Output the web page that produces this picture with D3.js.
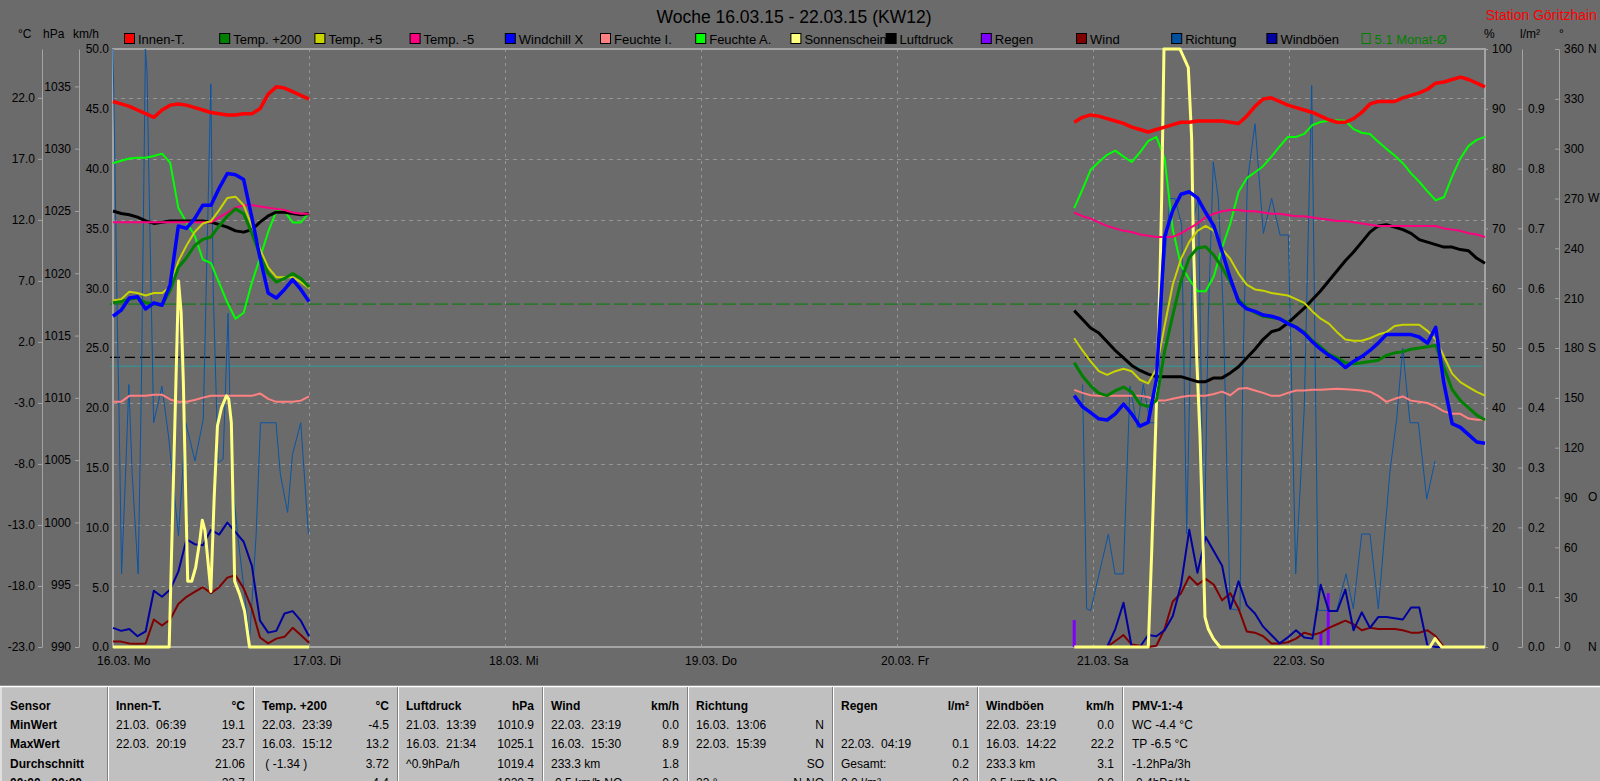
<!DOCTYPE html>
<html>
<head>
<meta charset="utf-8">
<title>Woche 16.03.15 - 22.03.15 (KW12)</title>
<script src="https://d3js.org/d3.v7.min.js"></script>
<style>
    body { margin: 0; background: #6b6b6b; overflow: hidden; }
    svg text { font-family: "Liberation Sans", Arial, sans-serif; white-space: pre; }
</style>
</head>
<body>
<div id="chart"></div>
<script>
// ---- data (hours since 16.03. 00:00) ----
var dayLabels = ["16.03. Mo", "17.03. Di", "18.03. Mi", "19.03. Do", "20.03. Fr", "21.03. Sa", "22.03. So"];
var hoursL = d3.range(0, 25);                                   // 16.03., hourly
var hoursR = d3.range(51).map(function(i) { return 117.7 + i * 1.006; }); // 20.03. late .. 22.03.

var innenL = [21.7,21.5,21.3,21.0,20.7,20.4,21.0,21.4,21.5,21.4,21.2,21.0,20.8,20.7,20.6,20.6,20.7,20.7,21.1,22.3,22.9,22.8,22.5,22.2,21.9];
var innenR = [20.0,20.4,20.6,20.5,20.3,20.1,19.9,19.6,19.4,19.2,19.4,19.6,19.8,20.0,20.0,20.1,20.1,20.1,20.1,20.0,19.9,20.5,21.3,21.9,22.0,21.7,21.4,21.2,21.0,20.8,20.5,20.2,20.0,20.0,20.3,20.8,21.5,21.7,21.7,21.7,22.0,22.2,22.4,22.7,23.2,23.3,23.5,23.7,23.5,23.2,22.9];
var t200L = [5.2,5.3,5.5,5.6,5.2,5.1,5.0,6.2,8.1,8.9,9.9,10.4,10.6,11.5,12.3,12.9,12.5,10.9,9.1,7.6,6.9,7.2,7.6,7.2,6.5];
var t200R = [0.3,-0.8,-1.6,-2.2,-2.4,-2.0,-1.7,-2.1,-3.1,-3.3,-2.8,1.2,4.2,7.0,8.9,9.7,9.8,9.1,8.1,6.9,5.5,4.8,4.4,4.1,4.0,3.9,3.6,3.2,2.8,2.1,1.6,1.0,0.7,0.3,0.2,0.3,0.4,0.5,0.9,1.1,1.2,1.4,1.5,1.6,1.7,-0.1,-1.9,-2.8,-3.4,-4.0,-4.4];
var t5L = [5.4,5.5,6.1,6.0,5.8,6.0,6.0,6.5,8.6,9.9,11.0,11.7,11.9,12.8,13.8,13.9,13.2,11.5,9.6,8.1,7.3,7.3,7.3,6.9,6.4];
var t5R = [2.3,1.3,0.4,-0.4,-0.7,-0.4,-0.2,-0.4,-1.1,-1.4,-0.2,3.3,6.7,8.8,10.2,11.1,11.5,11.1,9.6,8.8,7.6,6.7,6.3,6.2,6.0,5.9,5.8,5.5,5.2,4.5,3.9,3.5,2.8,2.2,2.1,2.1,2.3,2.6,2.8,3.3,3.4,3.4,3.4,2.9,2.2,0.8,-0.6,-1.3,-1.7,-2.1,-2.4];
var tm5L = [11.8,11.8,11.8,11.8,11.8,11.8,11.8,11.8,11.8,11.8,11.8,11.8,11.8,12.2,12.6,13.0,13.2,13.2,13.1,13.0,12.9,12.8,12.6,12.5,12.5];
var tm5R = [12.6,12.3,12.1,11.8,11.5,11.3,11.1,11.0,10.8,10.7,10.6,10.6,10.6,10.9,11.3,11.7,12.2,12.5,12.7,12.8,12.8,12.7,12.7,12.6,12.5,12.5,12.4,12.3,12.3,12.2,12.1,12.0,11.9,11.9,11.8,11.7,11.6,11.5,11.5,11.5,11.5,11.5,11.5,11.5,11.5,11.3,11.2,11.1,10.9,10.8,10.6];
var wcL = [4.1,4.6,5.6,5.7,4.7,5.2,5.0,6.7,11.5,11.3,12.1,13.2,13.2,14.6,15.8,15.7,15.3,12.2,8.9,6.0,5.6,6.3,7.1,6.3,5.3];
var wcR = [-2.4,-3.3,-3.8,-4.3,-4.4,-3.9,-3.1,-3.9,-4.9,-4.6,-1.1,10.6,12.8,14.1,14.3,13.8,12.6,11.5,9.4,7.2,5.3,4.7,4.5,4.2,4.1,3.9,3.5,3.2,2.7,2.0,1.4,0.9,0.5,-0.1,0.4,0.8,1.3,1.9,2.6,2.6,2.6,2.6,2.4,1.9,3.2,-1.4,-4.7,-5.0,-5.6,-6.2,-6.3];
var feuchteIL = [41.0,41.0,42.0,42.0,42.0,42.2,42.2,41.4,41.0,41.0,41.3,41.7,42.0,42.0,42.0,42.0,42.0,42.0,42.4,41.5,41.0,41.0,41.0,41.2,41.9];
var feuchteIR = [43.0,42.5,42.1,42.0,42.0,42.0,42.0,42.0,42.0,41.8,41.2,41.2,41.5,41.8,42.0,42.0,42.0,42.3,42.7,42.1,43.2,43.3,42.9,42.5,42.0,42.0,42.5,42.9,42.9,43.0,43.0,43.1,43.2,43.1,43.0,42.9,42.7,42.0,41.0,41.5,41.9,41.2,41.0,40.8,40.2,39.4,39.0,39.0,38.2,38.0,38.0];
var feuchteAL = [80.9,81.3,81.7,81.8,81.8,82.1,82.5,81.0,73.4,71.0,68.8,64.8,64.2,60.9,57.6,54.9,55.9,60.9,65.1,69.4,72.9,72.9,71.0,71.0,72.6];
var feuchteAR = [73.4,76.5,79.8,81.1,82.3,83.0,82.0,81.1,82.7,84.6,85.3,81.7,69.8,63.8,61.5,59.5,59.5,62.0,66.8,70.8,76.1,78.4,79.4,80.4,82.0,83.7,85.3,85.3,85.8,87.3,87.8,88.0,88.1,88.0,86.6,86.0,85.8,84.5,83.3,82.2,80.9,79.2,77.8,76.2,74.7,75.2,78.7,81.7,83.8,84.8,85.3];
var druckL = [1025.0,1024.8,1024.7,1024.5,1024.2,1024.0,1024.1,1024.2,1024.2,1024.2,1024.2,1024.2,1024.1,1023.9,1023.7,1023.4,1023.3,1023.5,1024.1,1024.6,1024.9,1024.9,1024.8,1024.7,1024.8];
var druckR = [1017.0,1016.3,1015.6,1015.2,1014.5,1013.8,1013.2,1012.6,1012.2,1011.9,1011.7,1011.7,1011.7,1011.7,1011.5,1011.3,1011.3,1011.6,1011.6,1012.0,1012.5,1013.2,1013.9,1014.7,1015.3,1015.5,1016.0,1016.6,1017.2,1017.9,1018.6,1019.4,1020.2,1021.0,1021.7,1022.5,1023.3,1023.8,1023.9,1023.7,1023.5,1023.2,1022.7,1022.5,1022.3,1022.1,1022.1,1021.9,1021.8,1021.2,1020.8];
var windL = [0.45,0.45,0.3,0.28,0.3,2.3,1.8,2.3,3.6,4.2,4.6,5.0,4.5,5.0,5.8,6.0,4.9,3.2,0.8,0.3,0.7,0.85,1.6,1.0,0.35];
var windR = [0,0,0,0,0,0.5,1.0,0.2,0.1,0,0.1,1.5,3.8,4.5,5.9,5.2,5.7,5.2,3.9,4.5,3.2,1.3,1.2,0.9,0.3,0.3,0.4,0.7,1.2,1.0,1.2,1.6,1.9,2.2,1.9,1.4,1.6,1.5,1.5,1.5,1.4,1.2,1.2,1.4,0.9,0,0,0,0,0,0];
var gustL = [1.6,1.35,1.5,0.9,1.3,4.7,4.2,4.8,6.3,9.0,8.6,8.5,9.8,9.4,10.4,9.6,8.8,6.8,2.2,1.2,1.35,2.8,3.0,2.2,0.9];
var gustR = [0,0,0,0,0,1.5,3.7,0,0,1.0,0.9,1.4,2.6,5.2,9.8,6.2,9.2,8.0,6.8,3.2,5.5,3.5,2.8,1.7,1.0,0.3,0.8,1.4,0.8,0.7,5.2,3.0,3.0,4.8,1.4,2.9,1.6,2.5,2.5,2.4,2.3,3.3,3.3,0.1,0,0,0,0,0,0,0];

var sunLT = [0,6.88,8.02,8.34,8.62,8.91,9.15,9.64,10.12,10.65,10.93,11.26,11.58,11.98,12.39,12.79,13.28,13.89,14.17,14.49,14.9,15.51,16.11,16.72,24];
var sunLV = [0,0,61.2,56,44,25,11,11,13.3,18,21.2,19.5,15,9.3,25,37,40,42,41.5,37.5,11,8.8,6,0,0];
var sunRT = [117.7,126.77,127.18,127.8,128.2,128.41,128.69,130.65,131.67,132.08,132.28,132.69,133.1,133.51,133.71,134.12,134.73,135.55,161.27,161.88,162.7,168];
var sunRV = [0,0,15.6,42,61.8,75.1,100,100,96.9,85,68.5,48.6,35.4,15.6,5,3,1.4,0,0,1.4,0,0];

var dirLT = [0,0.24,0.53,0.73,1.05,1.54,1.94,2.35,3.08,3.48,3.97,4.17,4.37,4.98,5.99,6.8,8.02,8.91,10.04,11.05,11.98,12.27,12.87,13.48,14.09,14.49,15.3,16.11,16.72,17.53,18.06,19.96,20.49,21.38,21.98,22.99,23.93];
var dirLV = [360,289,194,144,44,104,158,104,44,158,360,346,289,135,157,127,67,135,112,137,339,215,111,113,201,106,66,32,4,68,135,135,104,81,116,135,68];
var dirRT = [118.73,119.22,119.71,121.88,122.69,123.71,124.53,125.43,126.16,126.98,127.8,128.61,129.43,130.04,130.86,131.47,132.28,132.9,133.59,134.12,134.73,135.35,135.96,136.78,138.0,138.33,138.9,139.84,140.86,141.88,142.9,143.92,144.82,145.87,146.78,147.59,149.84,150.98,151.88,152.9,153.92,154.94,156.37,157.18,157.92,158.82,159.84,160.86,161.88];
var dirRV = [158,23,22,68,44,44,157,132,158,135,135,223,270,270,254,68,258,270,47,199,292,270,201,23,22,161,280,315,249,270,248,248,44,144,338,22,22,44,23,68,68,23,106,137,180,135,135,89,112];

var rainT = [117.7, 147.9, 148.8];
var rainV = [0.045, 0.024, 0.09];

var monthAvg = 5.1;      // °C
var normPressure = 1013.25;

var tempTicks = [-23, -18, -13, -8, -3, 2, 7, 12, 17, 22];
var hpaTicks = [990, 995, 1000, 1005, 1010, 1015, 1020, 1025, 1030, 1035];
var kmhTicks = [0, 5, 10, 15, 20, 25, 30, 35, 40, 45, 50];
var pctTicks = [0, 10, 20, 30, 40, 50, 60, 70, 80, 90, 100];
var rainTicks = [0, 0.1, 0.2, 0.3, 0.4, 0.5, 0.6, 0.7, 0.8, 0.9];
var degTicks = [0, 30, 60, 90, 120, 150, 180, 210, 240, 270, 300, 330, 360];
var degNames = {0: "N", 90: "O", 180: "S", 270: "W", 360: "N"};

var legendNames = ["Innen-T.", "Temp. +200", "Temp. +5", "Temp. -5", "Windchill X", "Feuchte I.", "Feuchte A.", "Sonnenschein", "Luftdruck", "Regen", "Wind", "Richtung", "Windböen"];
var legendColors = ["#ff0000", "#008000", "#c8d400", "#ff0080", "#0000ff", "#ff8080", "#00ff00", "#ffff80", "#000000", "#8000ff", "#800000", "#0050a0", "#0000a0"];

var tableRows = [
    ["Sensor", "Innen-T.", "°C", "Temp. +200", "°C", "Luftdruck", "hPa", "Wind", "km/h", "Richtung", "", "Regen", "l/m²", "Windböen", "km/h", "PMV-1:-4"],
    ["MinWert", "21.03.  06:39", "19.1", "22.03.  23:39", "-4.5", "21.03.  13:39", "1010.9", "22.03.  23:19", "0.0", "16.03.  13:06", "N", "", "", "22.03.  23:19", "0.0", "WC -4.4 °C"],
    ["MaxWert", "22.03.  20:19", "23.7", "16.03.  15:12", "13.2", "16.03.  21:34", "1025.1", "16.03.  15:30", "8.9", "22.03.  15:39", "N", "22.03.  04:19", "0.1", "16.03.  14:22", "22.2", "TP -6.5 °C"],
    ["Durchschnitt", "", "21.06", " ( -1.34 )", "3.72", "^0.9hPa/h", "1019.4", "233.3 km", "1.8", "", "SO", "Gesamt:", "0.2", "233.3 km", "3.1", "-1.2hPa/3h"],
    ["00:00 - 00:00", "", "22.7", "", "4.4", "", "1020.7", "-0.5 km/h NO", "0.0", "23 °", "N-NO", "0.0 l/m²", "0.0", "-0.5 km/h NO", "0.0", "-0.4hPa/1h"]
];
var tableSeps = [107, 253, 397, 542, 687, 832, 977, 1122];

// ---- layout ----
var width = 1600, height = 781;
var pl = 113, pr = 1485, pt = 49, pb = 647;

var svg = d3.select("#chart").append("svg")
    .attr("width", width)
    .attr("height", height);

svg.append("rect").attr("width", width).attr("height", height).attr("fill", "#6b6b6b");

var x = d3.scaleLinear().domain([0, 168]).range([pl, pr]);
var yT = d3.scaleLinear().domain([-23, 26]).range([pb, pt]);
var yP = d3.scaleLinear().domain([990, 1038]).range([pb, pt]);
var yK = d3.scaleLinear().domain([0, 50]).range([pb, pt]);
var yH = d3.scaleLinear().domain([0, 100]).range([pb, pt]);
var yR = d3.scaleLinear().domain([0, 1]).range([pb, pt]);
var yD = d3.scaleLinear().domain([0, 360]).range([pb, pt]);

// grid
svg.append("g").selectAll("line")
    .data(tempTicks.slice(1))
    .enter().append("line")
    .attr("x1", pl).attr("x2", pr)
    .attr("y1", function(d) { return Math.round(yT(d)) + 0.5; })
    .attr("y2", function(d) { return Math.round(yT(d)) + 0.5; })
    .attr("stroke", "#959595").attr("stroke-dasharray", "4,4");

svg.append("g").selectAll("line")
    .data(d3.range(1, 7))
    .enter().append("line")
    .attr("x1", function(d) { return Math.round(x(d * 24)) + 0.5; })
    .attr("x2", function(d) { return Math.round(x(d * 24)) + 0.5; })
    .attr("y1", pt).attr("y2", pb)
    .attr("stroke", "#959595").attr("stroke-dasharray", "3,4");

// reference lines
svg.append("line").attr("x1", 110).attr("x2", 1482)
    .attr("y1", yT(0)).attr("y2", yT(0))
    .attr("stroke", "#3f8c8c").attr("stroke-width", 1.5);
svg.append("line").attr("x1", 110).attr("x2", 1482)
    .attr("y1", yT(monthAvg)).attr("y2", yT(monthAvg))
    .attr("stroke", "#008000").attr("stroke-width", 1).attr("stroke-dasharray", "14,4");
svg.append("line").attr("x1", 110).attr("x2", 1482)
    .attr("y1", yP(normPressure)).attr("y2", yP(normPressure))
    .attr("stroke", "#000").attr("stroke-width", 1.2).attr("stroke-dasharray", "10,5");

// frame
svg.append("rect").attr("x", pl).attr("y", pt).attr("width", pr - pl).attr("height", pb - pt)
    .attr("fill", "none").attr("stroke", "#a4a4a4").attr("stroke-width", 2);

// axes
function styleAxis(g) {
    g.selectAll(".domain").attr("stroke", "#a4a4a4");
    g.selectAll(".tick line").attr("stroke", "#a4a4a4");
    g.selectAll("text").attr("fill", "#000").style("font-size", "12px")
        .style("font-family", "'Liberation Sans', Arial, sans-serif");
}
function fmt1(d) { return d.toFixed(1); }

svg.append("g").attr("transform", "translate(42,0)")
    .call(d3.axisLeft(yT).tickValues(tempTicks).tickFormat(fmt1).tickSizeInner(4).tickSizeOuter(0).tickPadding(3))
    .call(styleAxis);
svg.append("g").attr("transform", "translate(79,0)")
    .call(d3.axisLeft(yP).tickValues(hpaTicks).tickFormat(d3.format("d")).tickSizeInner(4).tickSizeOuter(0).tickPadding(4))
    .call(styleAxis);
svg.append("g").attr("transform", "translate(" + pl + ",0)")
    .call(d3.axisLeft(yK).tickValues(kmhTicks).tickFormat(fmt1).tickSize(0).tickPadding(4))
    .call(styleAxis);
svg.append("g").attr("transform", "translate(" + pr + ",0)")
    .call(d3.axisRight(yH).tickValues(pctTicks).tickFormat(d3.format("d")).tickSizeInner(3).tickSizeOuter(0).tickPadding(4))
    .call(styleAxis);
svg.append("g").attr("transform", "translate(1522,0)")
    .call(d3.axisRight(yR).tickValues(rainTicks).tickFormat(fmt1).tickSizeInner(-4).tickSizeOuter(0).tickPadding(6))
    .call(styleAxis);
svg.append("g").attr("transform", "translate(1559,0)")
    .call(d3.axisRight(yD).tickValues(degTicks).tickFormat(d3.format("d")).tickSizeInner(-4).tickSizeOuter(0).tickPadding(5))
    .call(styleAxis);

svg.append("g").selectAll("text")
    .data(degTicks.filter(function(d) { return degNames[d]; }))
    .enter().append("text")
    .attr("x", 1588).attr("y", function(d) { return yD(d); }).attr("dy", "0.32em")
    .style("font-size", "12px").text(function(d) { return degNames[d]; });

// unit labels
var units = [["°C", 18], ["hPa", 43], ["km/h", 73], ["%", 1484], ["l/m²", 1520], ["°", 1559]];
svg.append("g").selectAll("text").data(units).enter().append("text")
    .attr("x", function(d) { return d[1]; }).attr("y", 38)
    .style("font-size", "12px").text(function(d) { return d[0]; });

// day labels
svg.append("g").selectAll("text").data(dayLabels).enter().append("text")
    .attr("x", function(d, i) { return x(i * 24) - 16; }).attr("y", 665)
    .style("font-size", "12px").text(function(d) { return d; });

// title
svg.append("text").attr("x", 794).attr("y", 23).attr("text-anchor", "middle")
    .style("font-size", "17.5px").text("Woche 16.03.15 - 22.03.15 (KW12)");
svg.append("text").attr("x", 1597).attr("y", 20).attr("text-anchor", "end")
    .attr("fill", "#ff0000").style("font-size", "14px").text("Station Göritzhain");

// legend
var leg = svg.append("g");
legendNames.forEach(function(name, i) {
    var lx = 124 + i * 95.2;
    leg.append("text").attr("x", lx + 14).attr("y", 43.5).style("font-size", "13px").text(name);
    leg.append("rect").attr("x", lx + 0.5).attr("y", 33.5).attr("width", 10).attr("height", 10)
        .attr("fill", legendColors[i]).attr("stroke", "#000");
});
leg.append("rect").attr("x", 124 + 13 * 95.2 + 0.5).attr("y", 33.5).attr("width", 8).attr("height", 10)
    .attr("fill", "none").attr("stroke", "#008000");
leg.append("text").attr("x", 124 + 13 * 95.2 + 13).attr("y", 43.5).attr("fill", "#008000")
    .style("font-size", "13px").text("5.1 Monat-Ø");

// ---- series ----
var plotG = svg.append("g");

function drawLine(times, values, yScale, color, w) {
    var line = d3.line()
        .x(function(d) { return x(d[0]); })
        .y(function(d) { return yScale(d[1]); });
    plotG.append("path")
        .datum(d3.zip(times, values))
        .attr("d", line)
        .attr("fill", "none")
        .attr("stroke", color)
        .attr("stroke-width", w)
        .attr("stroke-linejoin", "round");
}

drawLine(dirLT, dirLV, yD, "#0a55a5", 1);
drawLine(dirRT, dirRV, yD, "#0a55a5", 1);

plotG.selectAll(".rain").data(d3.zip(rainT, rainV)).enter().append("line")
    .attr("x1", function(d) { return x(d[0]); }).attr("x2", function(d) { return x(d[0]); })
    .attr("y1", yR(0)).attr("y2", function(d) { return yR(d[1]); })
    .attr("stroke", "#8000ff").attr("stroke-width", 3);

drawLine(hoursL, windL, yK, "#800000", 2);
drawLine(hoursR, windR, yK, "#800000", 2);
drawLine(hoursL, gustL, yK, "#0000a0", 2);
drawLine(hoursR, gustR, yK, "#0000a0", 2);
drawLine(hoursL, feuchteIL, yH, "#ff8080", 2);
drawLine(hoursR, feuchteIR, yH, "#ff8080", 2);
drawLine(hoursL, feuchteAL, yH, "#00ff00", 2);
drawLine(hoursR, feuchteAR, yH, "#00ff00", 2);
drawLine(sunLT, sunLV, yH, "#ffff80", 3);
drawLine(sunRT, sunRV, yH, "#ffff80", 3);
drawLine(hoursL, druckL, yP, "#000000", 3);
drawLine(hoursR, druckR, yP, "#000000", 3);
drawLine(hoursL, tm5L, yT, "#ff0080", 2);
drawLine(hoursR, tm5R, yT, "#ff0080", 2);
drawLine(hoursL, t5L, yT, "#c8d400", 2);
drawLine(hoursR, t5R, yT, "#c8d400", 2);
drawLine(hoursL, t200L, yT, "#008000", 3);
drawLine(hoursR, t200R, yT, "#008000", 3);
drawLine(hoursL, wcL, yT, "#0000ff", 3.5);
drawLine(hoursR, wcR, yT, "#0000ff", 3.5);
drawLine(hoursL, innenL, yT, "#ff0000", 3.5);
drawLine(hoursR, innenR, yT, "#ff0000", 3.5);

// ---- table ----
var tbl = svg.append("g");
tbl.append("rect").attr("x", 0).attr("y", 686).attr("width", width).attr("height", height - 686).attr("fill", "#c0c0c0");
tbl.append("line").attr("x1", 0).attr("x2", width).attr("y1", 686.5).attr("y2", 686.5).attr("stroke", "#fff").attr("stroke-width", 1.5);
tbl.append("line").attr("x1", 1).attr("x2", 1).attr("y1", 686).attr("y2", height).attr("stroke", "#fff");
tableSeps.forEach(function(s) {
    tbl.append("line").attr("x1", s + 0.5).attr("x2", s + 0.5).attr("y1", 687).attr("y2", height).attr("stroke", "#808080");
    tbl.append("line").attr("x1", s + 1.5).attr("x2", s + 1.5).attr("y1", 687).attr("y2", height).attr("stroke", "#fff");
});

var rowY = [709.5, 729, 748, 767.5, 787];
tableRows.forEach(function(row, r) {
    tbl.append("text").attr("x", 10).attr("y", rowY[r])
        .style("font-size", "12px").style("font-weight", "bold").text(row[0]);
    for (var c = 0; c < 7; c++) {
        var L = tableSeps[c], R = tableSeps[c + 1];
        tbl.append("text").attr("x", L + 9).attr("y", rowY[r])
            .style("font-size", "12px").style("font-weight", r === 0 ? "bold" : "normal")
            .text(row[1 + c * 2]);
        tbl.append("text").attr("x", R - 8).attr("y", rowY[r]).attr("text-anchor", "end")
            .style("font-size", "12px").style("font-weight", r === 0 ? "bold" : "normal")
            .text(row[2 + c * 2]);
    }
    tbl.append("text").attr("x", 1132).attr("y", rowY[r])
        .style("font-size", "12px").style("font-weight", r === 0 ? "bold" : "normal")
        .text(row[15]);
});
</script>
</body>
</html>
